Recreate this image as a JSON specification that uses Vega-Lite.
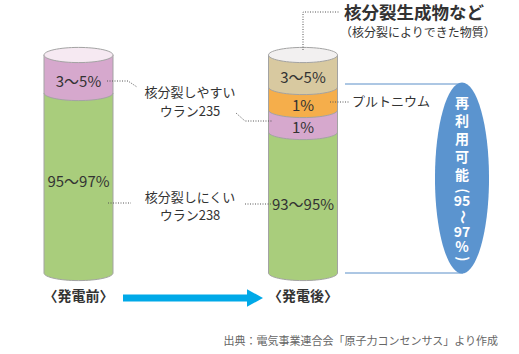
{
  "$schema": "https://vega.github.io/schema/vega-lite/v6.json",
  "width": 519,
  "height": 354,
  "padding": 0,
  "autosize": {"type": "fit", "contains": "padding"},
  "background": "#ffffff",
  "config": {"view": {"stroke": null}, "text": {"font": "Noto Sans CJK JP"}},
  "datasets": {
    "cyl": [
      {"cyl": "発電前", "x1": 44, "x2": 113, "cx": 78.5, "top": 55, "bottom": 273, "face": "topBefore"},
      {"cyl": "発電後", "x1": 268.5, "x2": 337.5, "cx": 303, "top": 55, "bottom": 273, "face": "topAfter"}
    ],
    "bands": [
      {"cyl": "発電前", "part": "U238", "cx": 78.5, "x1": 44, "x2": 113, "top": 93, "bottom": 273},
      {"cyl": "発電前", "part": "U235", "cx": 78.5, "x1": 44, "x2": 113, "top": 55, "bottom": 93},
      {"cyl": "発電後", "part": "U238", "cx": 303, "x1": 268.5, "x2": 337.5, "top": 132, "bottom": 273},
      {"cyl": "発電後", "part": "U235", "cx": 303, "x1": 268.5, "x2": 337.5, "top": 110, "bottom": 132},
      {"cyl": "発電後", "part": "Pu", "cx": 303, "x1": 268.5, "x2": 337.5, "top": 87, "bottom": 110},
      {"cyl": "発電後", "part": "FP", "cx": 303, "x1": 268.5, "x2": 337.5, "top": 55, "bottom": 87}
    ],
    "pct": [
      {"t": "3〜5%", "x": 78.5, "y": 82},
      {"t": "95〜97%", "x": 78.5, "y": 182},
      {"t": "3〜5%", "x": 303, "y": 78},
      {"t": "1%", "x": 303, "y": 106},
      {"t": "1%", "x": 303, "y": 128},
      {"t": "93〜95%", "x": 303, "y": 205}
    ],
    "mid": [
      {"t": "核分裂しやすい", "x": 190, "y": 93},
      {"t": "ウラン235", "x": 190, "y": 112},
      {"t": "核分裂しにくい", "x": 190, "y": 198},
      {"t": "ウラン238", "x": 190, "y": 216}
    ],
    "dots": [
      {"g": "a", "o": 1, "x": 107, "y": 81},
      {"g": "a", "o": 2, "x": 128, "y": 81},
      {"g": "a", "o": 3, "x": 137, "y": 87},
      {"g": "b", "o": 1, "x": 236, "y": 113},
      {"g": "b", "o": 2, "x": 245, "y": 121},
      {"g": "b", "o": 3, "x": 272, "y": 121},
      {"g": "c", "o": 1, "x": 108, "y": 203},
      {"g": "c", "o": 2, "x": 131, "y": 203},
      {"g": "d", "o": 1, "x": 245, "y": 204},
      {"g": "d", "o": 2, "x": 272, "y": 204},
      {"g": "e", "o": 1, "x": 330, "y": 102},
      {"g": "e", "o": 2, "x": 349, "y": 102},
      {"g": "f", "o": 1, "x": 303, "y": 50},
      {"g": "f", "o": 2, "x": 303, "y": 12},
      {"g": "f", "o": 3, "x": 340, "y": 12}
    ],
    "blines": [
      {"x": 345, "x2": 463, "y": 84},
      {"x": 345, "x2": 463, "y": 273}
    ],
    "vtext": [
      {"t": "再", "y": 104, "a": 0},
      {"t": "利", "y": 122, "a": 0},
      {"t": "用", "y": 140, "a": 0},
      {"t": "可", "y": 158, "a": 0},
      {"t": "能", "y": 176, "a": 0},
      {"t": "(", "y": 191, "a": 90},
      {"t": "95", "y": 202, "a": 0},
      {"t": "〜", "y": 217, "a": 90},
      {"t": "97", "y": 233, "a": 0},
      {"t": "%", "y": 248, "a": 0},
      {"t": ")", "y": 259, "a": 90}
    ]
  },
  "layer": [
    {
      "data": {"name": "bands"},
      "mark": {"type": "bar"},
      "encoding": {
        "x": {"field": "x1", "type": "quantitative", "scale": {"domain": [0, 519], "nice": false, "zero": false}, "axis": null},
        "x2": {"field": "x2"},
        "y": {"field": "top", "type": "quantitative", "scale": {"domain": [0, 354], "reverse": true, "nice": false, "zero": false}, "axis": null},
        "y2": {"field": "bottom"},
        "color": {"field": "part", "type": "nominal", "legend": null,
          "scale": {"domain": ["U238", "U235", "Pu", "FP", "topBefore", "topAfter"],
                    "range": ["#a9cd7c", "#d6a8cd", "#f5ae4b", "#d8c9a0", "#f6e9f2", "#f2f0f0"]}}
      }
    },
    {
      "data": {"name": "bands"},
      "mark": {"type": "point", "shape": "M-1,0A1,0.22 0 0,0 1,0", "filled": true, "opacity": 1, "size": 4761, "stroke": "#a3a3a3", "strokeWidth": 1},
      "encoding": {
        "x": {"field": "cx", "type": "quantitative", "scale": {"domain": [0, 519], "nice": false, "zero": false}, "axis": null},
        "y": {"field": "bottom", "type": "quantitative", "scale": {"domain": [0, 354], "reverse": true, "nice": false, "zero": false}, "axis": null},
        "color": {"field": "part", "type": "nominal", "legend": null}
      }
    },
    {
      "data": {"name": "cyl"},
      "mark": {"type": "rule", "color": "#a3a3a3", "strokeWidth": 1},
      "encoding": {
        "x": {"field": "x1", "type": "quantitative", "scale": {"domain": [0, 519], "nice": false, "zero": false}, "axis": null},
        "y": {"field": "top", "type": "quantitative", "scale": {"domain": [0, 354], "reverse": true, "nice": false, "zero": false}, "axis": null},
        "y2": {"field": "bottom"}
      }
    },
    {
      "data": {"name": "cyl"},
      "mark": {"type": "rule", "color": "#a3a3a3", "strokeWidth": 1},
      "encoding": {
        "x": {"field": "x2", "type": "quantitative", "scale": {"domain": [0, 519], "nice": false, "zero": false}, "axis": null},
        "y": {"field": "top", "type": "quantitative", "scale": {"domain": [0, 354], "reverse": true, "nice": false, "zero": false}, "axis": null},
        "y2": {"field": "bottom"}
      }
    },
    {
      "data": {"name": "cyl"},
      "mark": {"type": "point", "shape": "M-1,0A1,0.22 0 1,0 1,0A1,0.22 0 1,0 -1,0Z", "filled": true, "opacity": 1, "size": 4761, "stroke": "#a3a3a3", "strokeWidth": 1},
      "encoding": {
        "x": {"field": "cx", "type": "quantitative", "scale": {"domain": [0, 519], "nice": false, "zero": false}, "axis": null},
        "y": {"field": "top", "type": "quantitative", "scale": {"domain": [0, 354], "reverse": true, "nice": false, "zero": false}, "axis": null},
        "color": {"field": "face", "type": "nominal", "legend": null}
      }
    },
    {
      "data": {"name": "dots"},
      "mark": {"type": "line", "color": "#555555", "strokeWidth": 1, "strokeDash": [1, 1.5]},
      "encoding": {
        "x": {"field": "x", "type": "quantitative", "scale": {"domain": [0, 519], "nice": false, "zero": false}, "axis": null},
        "y": {"field": "y", "type": "quantitative", "scale": {"domain": [0, 354], "reverse": true, "nice": false, "zero": false}, "axis": null},
        "detail": {"field": "g", "type": "nominal"},
        "order": {"field": "o", "type": "quantitative"}
      }
    },
    {
      "data": {"name": "pct"},
      "mark": {"type": "text", "fontSize": 15, "color": "#333333", "baseline": "middle", "align": "center"},
      "encoding": {
        "x": {"field": "x", "type": "quantitative", "scale": {"domain": [0, 519], "nice": false, "zero": false}, "axis": null},
        "y": {"field": "y", "type": "quantitative", "scale": {"domain": [0, 354], "reverse": true, "nice": false, "zero": false}, "axis": null},
        "text": {"field": "t"}
      }
    },
    {
      "data": {"name": "mid"},
      "mark": {"type": "text", "fontSize": 13, "color": "#333333", "baseline": "middle", "align": "center"},
      "encoding": {
        "x": {"field": "x", "type": "quantitative", "scale": {"domain": [0, 519], "nice": false, "zero": false}, "axis": null},
        "y": {"field": "y", "type": "quantitative", "scale": {"domain": [0, 354], "reverse": true, "nice": false, "zero": false}, "axis": null},
        "text": {"field": "t"}
      }
    },
    {
      "data": {"values": [{"t": "プルトニウム", "x": 352, "y": 102}]},
      "mark": {"type": "text", "fontSize": 13, "color": "#333333", "baseline": "middle", "align": "left"},
      "encoding": {
        "x": {"field": "x", "type": "quantitative", "scale": {"domain": [0, 519], "nice": false, "zero": false}, "axis": null},
        "y": {"field": "y", "type": "quantitative", "scale": {"domain": [0, 354], "reverse": true, "nice": false, "zero": false}, "axis": null},
        "text": {"field": "t"}
      }
    },
    {
      "data": {"values": [{"t": "核分裂生成物など", "x": 344, "y": 14}]},
      "mark": {"type": "text", "fontSize": 17.5, "fontWeight": "bold", "color": "#333333", "baseline": "middle", "align": "left"},
      "encoding": {
        "x": {"field": "x", "type": "quantitative", "scale": {"domain": [0, 519], "nice": false, "zero": false}, "axis": null},
        "y": {"field": "y", "type": "quantitative", "scale": {"domain": [0, 354], "reverse": true, "nice": false, "zero": false}, "axis": null},
        "text": {"field": "t"}
      }
    },
    {
      "data": {"values": [{"t": "（核分裂によりできた物質）", "x": 340, "y": 33}]},
      "mark": {"type": "text", "fontSize": 12, "color": "#333333", "baseline": "middle", "align": "left"},
      "encoding": {
        "x": {"field": "x", "type": "quantitative", "scale": {"domain": [0, 519], "nice": false, "zero": false}, "axis": null},
        "y": {"field": "y", "type": "quantitative", "scale": {"domain": [0, 354], "reverse": true, "nice": false, "zero": false}, "axis": null},
        "text": {"field": "t"}
      }
    },
    {
      "data": {"name": "blines"},
      "mark": {"type": "rule", "color": "#5b8fc8", "strokeWidth": 1},
      "encoding": {
        "x": {"field": "x", "type": "quantitative", "scale": {"domain": [0, 519], "nice": false, "zero": false}, "axis": null},
        "x2": {"field": "x2"},
        "y": {"field": "y", "type": "quantitative", "scale": {"domain": [0, 354], "reverse": true, "nice": false, "zero": false}, "axis": null}
      }
    },
    {
      "data": {"values": [{"x": 462, "y": 178}]},
      "mark": {"type": "point", "shape": "M0,-1A0.283,1 0 1,0 0,1A0.283,1 0 1,0 0,-1Z", "filled": true, "opacity": 1, "size": 36481, "color": "#5b94cf"},
      "encoding": {
        "x": {"field": "x", "type": "quantitative", "scale": {"domain": [0, 519], "nice": false, "zero": false}, "axis": null},
        "y": {"field": "y", "type": "quantitative", "scale": {"domain": [0, 354], "reverse": true, "nice": false, "zero": false}, "axis": null}
      }
    },
    {
      "data": {"name": "vtext"},
      "mark": {"type": "text", "fontSize": 14, "fontWeight": "bold", "color": "#ffffff", "baseline": "middle", "align": "center"},
      "encoding": {
        "x": {"datum": 462, "type": "quantitative", "scale": {"domain": [0, 519], "nice": false, "zero": false}, "axis": null},
        "y": {"field": "y", "type": "quantitative", "scale": {"domain": [0, 354], "reverse": true, "nice": false, "zero": false}, "axis": null},
        "angle": {"field": "a", "type": "quantitative", "scale": null},
        "text": {"field": "t"}
      }
    },
    {
      "data": {"values": [{"x": 123, "x2": 250, "y": 298}]},
      "mark": {"type": "rule", "color": "#00a9e8", "strokeWidth": 7},
      "encoding": {
        "x": {"field": "x", "type": "quantitative", "scale": {"domain": [0, 519], "nice": false, "zero": false}, "axis": null},
        "x2": {"field": "x2"},
        "y": {"field": "y", "type": "quantitative", "scale": {"domain": [0, 354], "reverse": true, "nice": false, "zero": false}, "axis": null}
      }
    },
    {
      "data": {"values": [{"x": 255, "y": 298}]},
      "mark": {"type": "point", "shape": "M-1,-1.1L1,0L-1,1.1Z", "filled": true, "opacity": 1, "size": 256, "color": "#00a9e8"},
      "encoding": {
        "x": {"field": "x", "type": "quantitative", "scale": {"domain": [0, 519], "nice": false, "zero": false}, "axis": null},
        "y": {"field": "y", "type": "quantitative", "scale": {"domain": [0, 354], "reverse": true, "nice": false, "zero": false}, "axis": null}
      }
    },
    {
      "data": {"values": [{"t": "〈発電前〉", "x": 78.5, "y": 297}, {"t": "〈発電後〉", "x": 303, "y": 297}]},
      "mark": {"type": "text", "fontSize": 14, "fontWeight": "bold", "color": "#333333", "baseline": "middle", "align": "center"},
      "encoding": {
        "x": {"field": "x", "type": "quantitative", "scale": {"domain": [0, 519], "nice": false, "zero": false}, "axis": null},
        "y": {"field": "y", "type": "quantitative", "scale": {"domain": [0, 354], "reverse": true, "nice": false, "zero": false}, "axis": null},
        "text": {"field": "t"}
      }
    },
    {
      "data": {"values": [{"t": "出典：電気事業連合会「原子力コンセンサス」より作成", "x": 498, "y": 342}]},
      "mark": {"type": "text", "fontSize": 11, "color": "#666666", "baseline": "middle", "align": "right"},
      "encoding": {
        "x": {"field": "x", "type": "quantitative", "scale": {"domain": [0, 519], "nice": false, "zero": false}, "axis": null},
        "y": {"field": "y", "type": "quantitative", "scale": {"domain": [0, 354], "reverse": true, "nice": false, "zero": false}, "axis": null},
        "text": {"field": "t"}
      }
    }
  ]
}
